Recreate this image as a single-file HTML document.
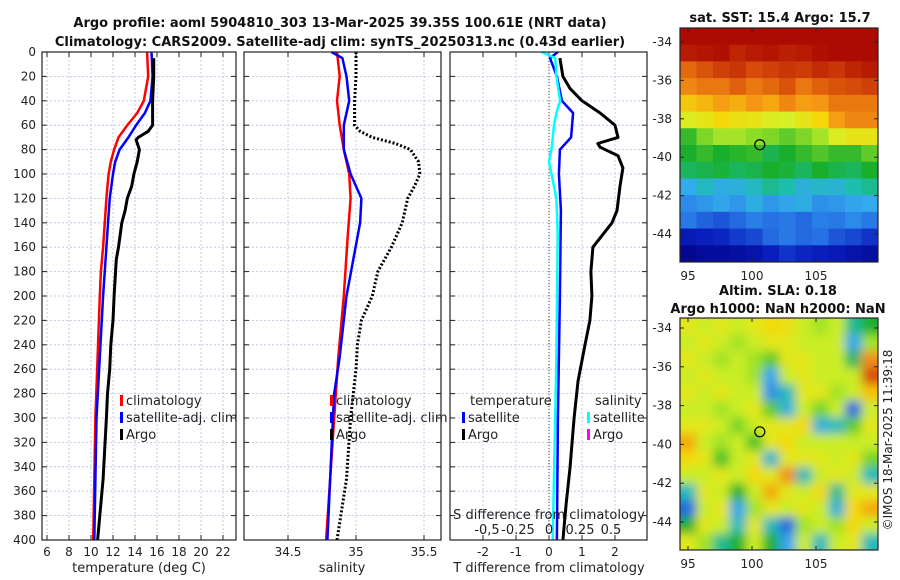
<!DOCTYPE html>
<html><head><meta charset="utf-8"><style>
body{margin:0;background:#fff;}
svg{display:block;font-family:"DejaVu Sans","Liberation Sans",sans-serif;}
</style></head><body>
<svg id="c" width="900" height="580" viewBox="0 0 900 580"></svg>
<script>
// ---- data ----
const climDepth=[0,20,40,50,60,70,80,90,100,120,160,180,200,250,300,350,400];
const climTemp=[15.1,15.2,14.8,14.2,13.3,12.5,12.1,11.8,11.6,11.4,11.1,10.9,10.8,10.6,10.4,10.3,10.2];
const satDepth=[0,20,40,50,60,70,80,90,100,120,160,200,250,300,350,400];
const satTemp=[15.5,15.6,15.4,14.9,14.1,13.4,12.6,12.2,12.0,11.7,11.4,11.1,10.8,10.5,10.4,10.3];
const argoDepth=[5,20,40,60,65,70,72,80,90,100,110,115,120,130,140,160,170,200,220,240,260,280,300,350,400];
const argoTemp=[15.7,15.7,15.6,15.6,15.2,14.3,14.1,14.4,14.2,13.9,13.7,13.5,13.3,13.1,12.8,12.5,12.3,12.1,12.0,11.8,11.7,11.5,11.4,11.1,10.6];
const climSalDepth=[0,20,40,60,80,100,120,150,200,250,300,400];
const climSal=[34.86,34.88,34.86,34.88,34.91,34.95,34.96,34.94,34.91,34.87,34.84,34.78];
const satSalDepth=[0,5,20,40,60,80,100,110,120,140,200,250,280,300,400];
const satSal=[34.82,34.90,34.93,34.95,34.91,34.91,34.96,35.0,35.04,35.03,34.93,34.88,34.84,34.83,34.79];
const argoSalDepth=[0,20,40,60,65,70,75,80,90,100,110,120,140,160,180,200,220,240,260,300,350,400];
const argoSal=[35.0,35.0,34.99,34.99,35.03,35.12,35.29,35.40,35.46,35.47,35.43,35.38,35.34,35.26,35.16,35.12,35.04,35.01,35.0,34.96,34.93,34.86];
const dTsatDepth=[0,5,20,40,50,70,80,100,130,200,300,400];
const dTsat=[0.27,0.03,0.24,0.39,0.73,0.67,0.33,0.30,0.36,0.33,0.27,0.24];
const dSsatDepth=[0,5,20,40,50,60,80,90,100,120,150,250,300,400];
const dSsat=[-0.06,0.05,0.06,0.09,0.06,0.04,0.02,0.0,0.02,0.06,0.07,0.06,0.05,0.03];
const dTargoDepth=[5,20,30,40,50,60,70,75,78,85,95,110,130,140,160,180,200,220,240,270,300,340,370,400];
const dTargo=[0.33,0.42,0.64,1.0,1.55,2.0,2.09,1.48,1.55,2.09,2.24,2.15,2.06,1.91,1.33,1.27,1.30,1.24,1.09,0.88,0.76,0.64,0.52,0.42];
const depthTicks=[0,20,40,60,80,100,120,140,160,180,200,220,240,260,280,300,320,340,360,380,400];
const tTicks=[6,8,10,12,14,16,18,20,22];
const sTicks=[34.5,35,35.5];
const dTTicks=[-2,-1,0,1,2];
const dSTicks=[-0.5,-0.25,0,0.25,0.5];
const dSLabels=["-0,5","-0.25","0","0.25","0.5"];
const sstGrid=[
[19.8,19.8,19.8,19.8,19.8,19.8,19.8,19.8,19.8,19.8,19.8,19.8],
[19.5,19.6,19.7,19.3,19.5,19.6,19.4,19.5,19.7,19.8,19.8,19.8],
[18.2,18.5,18.8,19.0,18.6,18.8,19.0,18.9,19.2,19.0,19.3,19.5],
[17.8,18.0,18.0,18.3,18.0,18.2,18.5,18.0,18.3,18.5,18.6,18.8],
[17.0,17.2,17.5,17.3,17.6,17.4,17.8,17.5,17.6,18.0,18.0,18.0],
[16.3,16.5,16.8,16.6,16.5,16.3,16.2,16.5,16.8,17.5,17.8,17.8],
[15.0,15.5,15.8,15.8,15.6,15.5,15.3,15.5,15.8,16.3,16.5,16.5],
[14.8,15.0,14.8,14.9,15.0,14.6,14.8,15.0,15.2,15.0,15.0,15.3],
[14.5,14.6,14.7,14.5,14.6,14.8,14.7,14.5,14.8,14.6,14.5,14.8],
[13.3,13.8,13.4,13.5,13.8,14.2,14.0,13.5,13.7,13.6,14.0,14.2],
[12.8,13.0,13.2,13.0,13.4,13.0,13.2,13.4,12.9,13.0,13.2,13.3],
[12.5,12.2,12.0,12.3,12.6,12.4,12.5,12.3,12.6,12.5,12.8,12.5],
[11.0,11.2,11.3,11.6,11.8,12.3,12.5,12.3,12.4,12.0,11.8,11.5],
[10.3,10.5,10.5,10.6,10.8,11.2,11.5,11.3,11.2,11.0,10.8,10.6]];
const slaGrid=[
[0.62,0.60,0.62,0.60,0.62,0.64,0.63,0.60,0.58,0.60,0.48,0.52],
[0.60,0.62,0.60,0.58,0.60,0.62,0.62,0.60,0.60,0.60,0.42,0.58],
[0.62,0.60,0.58,0.60,0.58,0.55,0.62,0.62,0.60,0.60,0.50,0.70],
[0.60,0.62,0.60,0.60,0.58,0.42,0.60,0.62,0.60,0.60,0.60,0.76],
[0.62,0.60,0.62,0.60,0.60,0.40,0.46,0.62,0.62,0.58,0.60,0.66],
[0.60,0.60,0.58,0.60,0.62,0.55,0.44,0.60,0.56,0.60,0.36,0.60],
[0.62,0.62,0.60,0.56,0.60,0.62,0.62,0.64,0.44,0.46,0.55,0.62],
[0.68,0.60,0.58,0.60,0.54,0.62,0.64,0.60,0.60,0.60,0.60,0.60],
[0.64,0.62,0.54,0.60,0.62,0.45,0.62,0.62,0.62,0.60,0.62,0.56],
[0.60,0.60,0.62,0.60,0.64,0.62,0.70,0.46,0.60,0.62,0.60,0.46],
[0.46,0.62,0.60,0.52,0.60,0.68,0.62,0.60,0.64,0.48,0.62,0.62],
[0.36,0.60,0.62,0.42,0.58,0.62,0.60,0.62,0.60,0.44,0.64,0.68],
[0.52,0.62,0.60,0.46,0.62,0.46,0.36,0.58,0.60,0.58,0.64,0.60],
[0.62,0.58,0.48,0.52,0.60,0.52,0.42,0.60,0.46,0.60,0.62,0.46]];
const mapLatTicks=[-34,-36,-38,-40,-42,-44];
const mapLonTicks=[95,100,105];
const argoLon=100.61, argoLat=-39.35;

// ---- helpers ----
const NS="http://www.w3.org/2000/svg";
const svg=document.getElementById('c');
function mk(tag,attrs,parent){const e=document.createElementNS(NS,tag);for(const k in attrs)e.setAttribute(k,attrs[k]);(parent||svg).appendChild(e);return e;}
function txt(s,x,y,attrs,parent){const e=mk('text',Object.assign({x:x,y:y,'font-size':12,fill:'#222'},attrs||{}),parent);e.textContent=s;return e;}
const Y0=52,Y1=540;
const yD=d=>Y0+d*(Y1-Y0)/400;
const xT=t=>47+(t-6)*11;
const xS=s=>356+(s-35)*136;
const xdT=v=>549+v*33;
const xdS=v=>549+v*124;

function panel(name,x0,x1){
  const g=mk('g',{});
  
  
  depthTicks.forEach(d=>{
    const l=mk('line',{x1:x0,x2:x1,y1:yD(d),y2:yD(d),stroke:'#b8c0e0','stroke-width':0.8,'stroke-dasharray':'2,2'},g);
    
    
    mk('line',{x1:x0,x2:x0+5,y1:yD(d),y2:yD(d),stroke:'#222'},g);
    mk('line',{x1:x1,x2:x1-5,y1:yD(d),y2:yD(d),stroke:'#222'},g);
  });
  return g;
}
function vgrid(g,ticks,f,labels,y){
  ticks.forEach((t,i)=>{
    const x=f(t);
    const l=mk('line',{x1:x,x2:x,y1:Y0,y2:Y1,stroke:'#b8c0e0','stroke-width':0.8,'stroke-dasharray':'2,2'},g);
    
    
    mk('line',{x1:x,x2:x,y1:Y0,y2:Y0+5,stroke:'#222'},g);
    mk('line',{x1:x,x2:x,y1:Y1,y2:Y1-5,stroke:'#222'},g);
    const tl=txt(labels?labels[i]:String(t),x,y,{'text-anchor':'middle'},g);
    
    
  });
}
function line(g,depths,vals,f,color,w,name,dash){
  const pts=depths.map((d,i)=>f(vals[i]).toFixed(1)+','+yD(d).toFixed(1)).join(' ');
  const p=mk('polyline',{points:pts,fill:'none',stroke:color,'stroke-width':w,'stroke-linejoin':'round','stroke-dasharray':dash||'none'},g);
  
  
}
function frame(g,x0,x1){mk('rect',{x:x0,y:Y0,width:x1-x0,height:Y1-Y0,fill:'none',stroke:'#222','stroke-width':1.2},g);}
function legendItem(g,x,y,color,label){
  mk('rect',{x:x,y:y-10,width:3,height:11,fill:color},g);
  const t=txt(label,x+6,y,{'font-size':13},g);
  
  
}

// titles
let t1=txt('Argo profile: aoml 5904810_303 13-Mar-2025 39.35S 100.61E (NRT data)',340,27,{'font-size':13,'font-weight':'bold','text-anchor':'middle',fill:'#111'});


let t2=txt('Climatology: CARS2009. Satellite-adj clim: synTS_20250313.nc (0.43d earlier)',340,46,{'font-size':13,'font-weight':'bold','text-anchor':'middle',fill:'#111'});



// depth labels
depthTicks.forEach(d=>{
  const l=txt(String(d),36,yD(d)+4,{'text-anchor':'end'});
  
  
});

// panel 1
const g1=panel('temperature-panel',42,236);
vgrid(g1,tTicks,xT,null,556);
line(g1,climDepth,climTemp,xT,'#f00',2.5,'climatology-temp-line');
line(g1,satDepth,satTemp,xT,'#00f',2.5,'satellite-temp-line');
line(g1,argoDepth,argoTemp,xT,'#000',3,'argo-temp-line');
frame(g1,42,236);
legendItem(g1,120,405,'#f00','climatology');
legendItem(g1,120,422,'#00f','satellite-adj. clim');
legendItem(g1,120,439,'#000','Argo');
let xl1=txt('temperature (deg C)',139,572,{'font-size':13,'text-anchor':'middle'});



// panel 2
const g2=panel('salinity-panel',244,441);
vgrid(g2,sTicks,xS,null,556);
line(g2,climSalDepth,climSal,xS,'#f00',2.5,'climatology-sal-line');
line(g2,satSalDepth,satSal,xS,'#00f',2.5,'satellite-sal-line');
line(g2,argoSalDepth,argoSal,xS,'#000',3,'argo-sal-line','2,2');
frame(g2,244,441);
legendItem(g2,330,405,'#f00','climatology');
legendItem(g2,330,422,'#00f','satellite-adj. clim');
legendItem(g2,330,439,'#000','Argo');
let xl2=txt('salinity',342,572,{'font-size':13,'text-anchor':'middle'});



// panel 3
const g3=panel('difference-panel',450,647);
vgrid(g3,dTTicks,xdT,null,556);
mk('line',{x1:549,x2:549,y1:Y0,y2:Y1,stroke:'#444','stroke-dasharray':'1,2'},g3);
line(g3,dTsatDepth,dTsat,xdT,'#00f',2.5,'satellite-temp-diff-line');
line(g3,dSsatDepth,dSsat,xdS,'#0ff',2.5,'satellite-sal-diff-line');
line(g3,dTargoDepth,dTargo,xdT,'#000',3,'argo-temp-diff-line');
frame(g3,450,647);
let lh1=txt('temperature',470,405,{'font-size':13},g3);


let lh2=txt('salinity',595,405,{'font-size':13},g3);


legendItem(g3,462,422,'#00f','satellite');
legendItem(g3,462,439,'#000','Argo');
legendItem(g3,587,422,'#0ff','satellite');
legendItem(g3,587,439,'#f0f','Argo');
let st=txt('S difference from climatology',549,519,{'font-size':13,'text-anchor':'middle'},g3);


dSTicks.forEach((v,i)=>{
  const l=txt(dSLabels[i],xdS(v),534,{'font-size':13,'text-anchor':'middle'},g3);
  
  
});
let xl3=txt('T difference from climatology',549,572,{'font-size':13,'text-anchor':'middle'});



// custom colormap (approximating the reference)
const cmStops=[[0,0,0,130],[0.12,10,30,190],[0.25,40,120,230],[0.33,50,170,235],[0.4,30,190,175],[0.48,25,175,45],[0.56,140,220,40],[0.62,215,240,40],[0.68,245,215,10],[0.76,245,150,20],[0.86,215,75,10],[1,165,0,0]];
function cmap(v){v=Math.max(0,Math.min(1,v));
  for(let i=1;i<cmStops.length;i++){const a=cmStops[i-1],b=cmStops[i];
    if(v<=b[0]){const t=(v-a[0])/(b[0]-a[0]);
      return 'rgb('+Math.round(a[1]+t*(b[1]-a[1]))+','+Math.round(a[2]+t*(b[2]-a[2]))+','+Math.round(a[3]+t*(b[3]-a[3]))+')';}}
  return 'rgb(165,0,0)';}

function map(name,top,bottom,grid,norm,blur,latA,latB){
  const x0=680,x1=878;
  const g=mk('g',{});
  
  
  const id='clip'+top;
  const cp=mk('clipPath',{id:id},g);mk('rect',{x:x0,y:top,width:x1-x0,height:bottom-top},cp);
  const inner=mk('g',{'clip-path':'url(#'+id+')'},g);
  const cg=mk('g',blur?{filter:'url(#bl)'}:{},inner);
  const rows=grid.length,cols=grid[0].length;
  const cw=(x1-x0)/cols,ch=(bottom-top)/rows;
  grid.forEach((row,r)=>row.forEach((v,c)=>{
    const ex=(blur&&c===cols-1)?14:0, ey=(blur&&r===rows-1)?14:0;
    const ox=(blur&&c===0)?14:0, oy=(blur&&r===0)?14:0;
    const cell=mk('rect',{x:x0+c*cw-ox,y:top+r*ch-oy,width:cw+0.6+ex+ox,height:ch+0.6+ey+oy,fill:cmap(norm(v))},cg);
    
    
  }));
  const xLon=lon=>688+(lon-95)*12.8;
  const yLat=lat=>latA+(-34-lat)*(latB-latA)/10;
  mk('rect',{x:x0,y:top,width:x1-x0,height:bottom-top,fill:'none',stroke:'#222','stroke-width':1.2},g);
  mapLatTicks.forEach(l=>{
    mk('line',{x1:x0,x2:x0+4,y1:yLat(l),y2:yLat(l),stroke:'#222'},g);
    mk('line',{x1:x1,x2:x1-4,y1:yLat(l),y2:yLat(l),stroke:'#222'},g);
    const tl=txt(String(l),x0-8,yLat(l)+4,{'text-anchor':'end'},g);
    
    
  });
  mapLonTicks.forEach(l=>{
    mk('line',{x1:xLon(l),x2:xLon(l),y1:bottom,y2:bottom-4,stroke:'#222'},g);
    mk('line',{x1:xLon(l),x2:xLon(l),y1:top,y2:top+4,stroke:'#222'},g);
    const tl=txt(String(l),xLon(l),bottom+18,{'text-anchor':'middle'},g);
    
    
  });
  const m=mk('circle',{cx:xLon(argoLon),cy:yLat(argoLat),r:5,fill:'none',stroke:'#000','stroke-width':1.2},g);
  
  
}
const defs=mk('defs',{});
const f=mk('filter',{id:'bl',filterUnits:'userSpaceOnUse',x:660,y:300,width:240,height:270},defs);
mk('feGaussianBlur',{stdDeviation:5},f);

map('sst-map',28,262,sstGrid,v=>(v-10)/10,false,42,234);
map('sla-map',318,550,slaGrid,v=>0.6+(v-0.6)*1.6+0.01,true,328,522);
let mt1=txt('sat. SST: 15.4 Argo: 15.7',780,22,{'font-size':13,'font-weight':'bold','text-anchor':'middle',fill:'#111'});


let mt2=txt('Altim. SLA: 0.18',778,295,{'font-size':13,'font-weight':'bold','text-anchor':'middle',fill:'#111'});


let mt3=txt('Argo h1000: NaN h2000: NaN',778,313,{'font-size':13,'font-weight':'bold','text-anchor':'middle',fill:'#111'});


let cr=txt('©IMOS 18-Mar-2025 11:39:18',0,0,{'font-size':12,'text-anchor':'middle',transform:'translate(892,440) rotate(-90)'});


</script>
</body></html>
